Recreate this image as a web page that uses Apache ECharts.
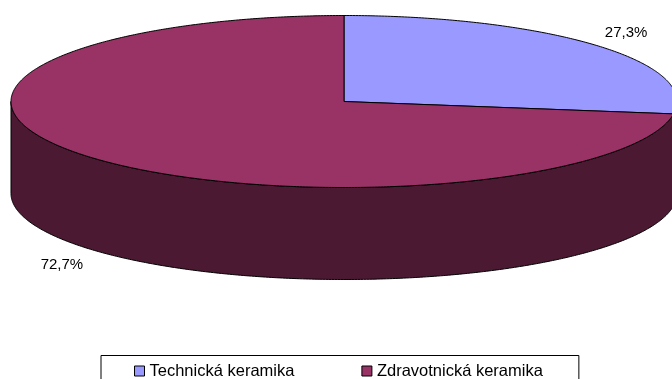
<!DOCTYPE html>
<html>
<head>
<meta charset="utf-8">
<script src="https://cdn.jsdelivr.net/npm/echarts@6/dist/echarts.min.js"></script>
<style>
  html, body { margin: 0; padding: 0; background: #fff; }
  #chart { width: 672px; height: 379px; }
</style>
</head>
<body>
<div id="chart"></div>
<script>
// Share of production by ceramics segment (%)
const categories = ['Technická keramika', 'Zdravotnická keramika'];
const shares = [27.3, 72.7];
const topColors = ['#9999FF', '#993366'];
const sideColors = ['#4D4D80', '#4C1933'];

// Disc geometry: centre, radii of the top ellipse and wall height
const CX = 344, CY = 101.5, RX = 333, RY = 86, DEPTH = 92;
const FONT = 'Liberation Sans, Arial, sans-serif';

const total = shares.reduce((a, b) => a + b, 0);
const starts = shares.map((_, i) => shares.slice(0, i).reduce((a, b) => a + b, 0));

// Point on the ellipse at angle a, measured clockwise from 12 o'clock
function pt(a, dy) {
  return [CX + RX * Math.sin(a), CY - RY * Math.cos(a) + (dy || 0)];
}
function arcPts(a0, a1, dy) {
  const n = Math.max(2, Math.ceil(Math.abs(a1 - a0) / (Math.PI / 360)));
  const out = [];
  for (let k = 0; k <= n; k++) out.push(pt(a0 + (a1 - a0) * k / n, dy));
  return out;
}
function fmtPct(v) {
  return (v / total * 100).toFixed(1).replace('.', ',') + '%';
}

function renderSlice(params, api) {
  const i = params.seriesIndex;
  const start = api.value(0), val = api.value(1);
  const a0 = start / total * 2 * Math.PI;
  const a1 = (start + val) / total * 2 * Math.PI;
  const children = [];

  // Front wall: only the part facing the viewer (right, bottom, left)
  const f0 = Math.max(a0, Math.PI / 2), f1 = Math.min(a1, 1.5 * Math.PI);
  if (f1 > f0) {
    children.push({
      type: 'polygon',
      shape: { points: arcPts(f0, f1, 0).concat(arcPts(f1, f0, DEPTH)) },
      style: { fill: sideColors[i], stroke: '#000', lineWidth: 1 }
    });
  }

  // Top face of the slice
  children.push({
    type: 'polygon',
    shape: { points: [[CX, CY]].concat(arcPts(a0, a1, 0)) },
    style: { fill: topColors[i], stroke: '#000', lineWidth: 1 }
  });

  // Percentage label outside the disc
  const mid = (a0 + a1) / 2;
  const lx = CX + RX * Math.sin(mid) * 1.12;
  const ly = CY - RY * Math.cos(mid) * 1.25 + (Math.cos(mid) < 0 ? DEPTH : 0) + 1.5;
  children.push({
    type: 'text',
    style: {
      text: fmtPct(val), x: lx, y: ly, align: 'center', verticalAlign: 'middle',
      font: '15px ' + FONT, fill: '#000'
    }
  });

  return { type: 'group', children };
}

const chart = echarts.init(document.getElementById('chart'), null, { renderer: 'canvas' });
chart.setOption({
  backgroundColor: '#fff',
  animation: false,
  legend: {
    left: 101,
    top: 355.5,
    orient: 'horizontal',
    padding: [7, 36, 30, 33],
    itemGap: 67,
    itemWidth: 10,
    itemHeight: 10,
    borderColor: '#000',
    borderWidth: 1,
    borderRadius: 0,
    backgroundColor: '#fff',
    selectedMode: false,
    textStyle: { fontFamily: FONT, fontSize: 16.5, color: '#000' },
    data: categories.map((n, i) => ({
      name: n,
      icon: 'rect',
      itemStyle: { color: topColors[i], borderColor: '#000', borderWidth: 1 }
    }))
  },
  series: categories.map((name, i) => ({
    type: 'custom',
    name: name,
    coordinateSystem: 'none',
    silent: true,
    itemStyle: { color: topColors[i] },
    renderItem: renderSlice,
    data: [[starts[i], shares[i]]]
  }))
});
</script>
</body>
</html>
